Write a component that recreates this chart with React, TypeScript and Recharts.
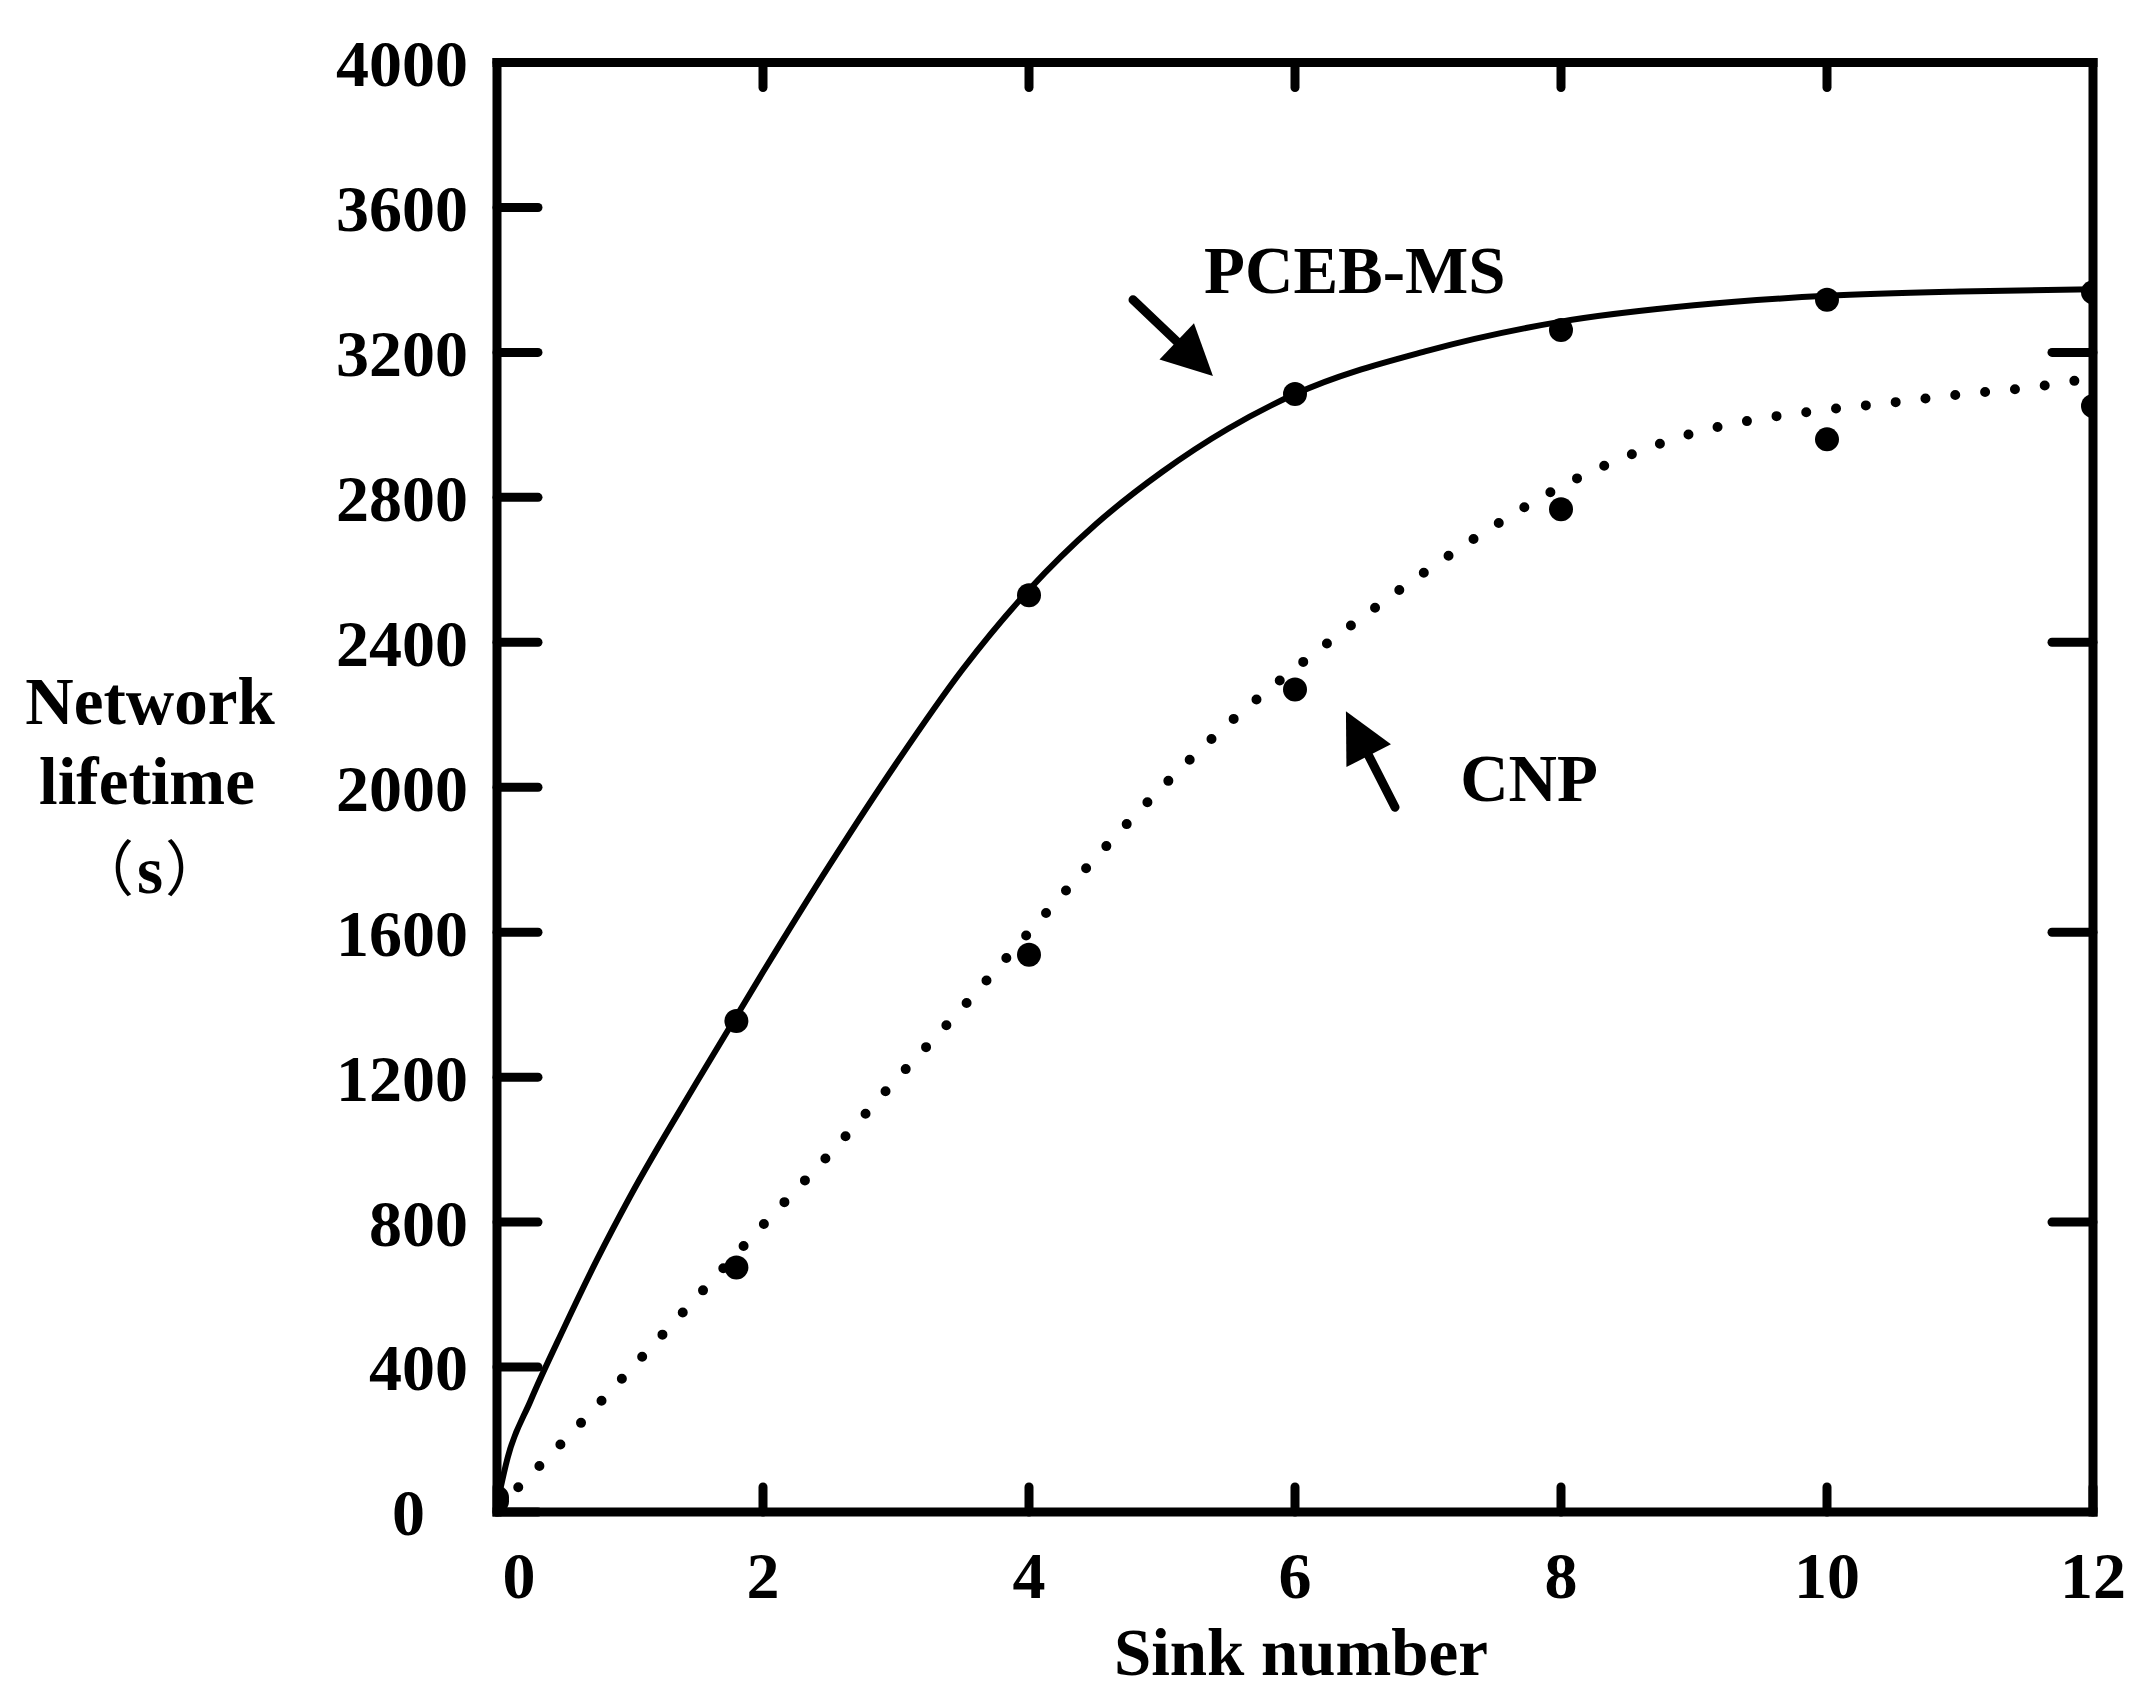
import React from 'react';
import {
  ComposedChart, Line, Scatter, XAxis, YAxis, ReferenceLine, ReferenceDot,
} from 'recharts';

// axis ticks
const sinkTicks = [0, 2, 4, 6, 8, 10, 12];
const lifetimeTicks = [0, 400, 800, 1200, 1600, 2000, 2400, 2800, 3200, 3600, 4000];
const topInnerTicks = [2, 4, 6, 8, 10];
const rightInnerTicks = [800, 1600, 2400, 3200];

// measured points (sink number, lifetime in s)
const sinkPoints = [0, 1.8, 4, 6, 8, 10, 12];
const pcebMeasured = [30, 1355, 2530, 3085, 3262, 3345, 3366];
const cnpMeasured = [40, 675, 1538, 2270, 2767, 2960, 3052];

// fitted curves
const pcebFitX = [0, 0.08, 0.25, 0.5, 0.75, 1, 1.5, 2, 2.5, 3, 3.5, 4, 4.5, 5, 5.5, 6, 7, 8, 9, 10, 11, 12];
const pcebFit = [20, 150, 305, 505, 695, 870, 1185, 1490, 1785, 2065, 2325, 2545, 2725, 2870, 2990, 3085, 3205, 3285, 3330, 3356, 3368, 3374];
const cnpFitX = [0, 0.5, 1, 1.5, 2, 2.5, 3, 3.5, 4, 4.5, 5, 5.5, 6, 6.5, 7, 7.5, 8, 8.5, 9, 9.5, 10, 10.5, 11, 11.5, 12];
const cnpFit = [10, 195, 392, 592, 792, 988, 1193, 1392, 1600, 1805, 2000, 2176, 2328, 2468, 2600, 2722, 2830, 2914, 2978, 3017, 3042, 3062, 3084, 3102, 3130];

// annotation anchors in data units: [tail, tip] of arrows, text baselines
const pcebArrow = [{ x: 4.782, y: 3345 }, { x: 5.383, y: 3135 }];
const cnpArrow = [{ x: 6.752, y: 1945 }, { x: 6.383, y: 2210 }];
const pcebLabelAt = { x: 6.45, y: 3364 };
const cnpLabelAt = { x: 7.76, y: 1962 };

const rows = (xs: number[], ys: number[]) => xs.map((x, i) => ({ x, y: ys[i] }));

const pcebPointRows = rows(sinkPoints, pcebMeasured);
const cnpPointRows = rows(sinkPoints, cnpMeasured);
const pcebFitRows = rows(pcebFitX, pcebFit);
const cnpFitRows = rows(cnpFitX, cnpFit);

const FONT = '"Liberation Serif", "Times New Roman", serif';
const CJK = '"Noto Sans CJK SC", "Liberation Serif", serif';
const axisLine = { stroke: '#000', strokeWidth: 9, strokeLinecap: 'square' as const };
const tickLine = { stroke: '#000', strokeWidth: 9, strokeLinecap: 'round' as const };

// frame axes only carry inner tick marks, no labels
const NoLabel = () => <g />;

const Arrow = (props: any) => {
  const { x1, y1, x2, y2 } = props;
  const dx = x2 - x1;
  const dy = y2 - y1;
  const len = Math.hypot(dx, dy) || 1;
  const ux = dx / len;
  const uy = dy / len;
  const head = 50;
  const half = 25;
  const bx = x2 - ux * head;
  const by = y2 - uy * head;
  return (
    <g>
      <line x1={x1} y1={y1} x2={bx + ux * 6} y2={by + uy * 6} stroke="#000" strokeWidth={9} strokeLinecap="round" />
      <polygon
        points={`${x2},${y2} ${bx - uy * half},${by + ux * half} ${bx + uy * half},${by - ux * half}`}
        fill="#000"
      />
    </g>
  );
};

const textShape = (text: string) => (p: any) => (
  <text x={p.cx} y={p.cy} textAnchor="middle" fontFamily={FONT} fontWeight={700} fontSize={67} fill="#000">
    {text}
  </text>
);

const XTick = (p: any) => {
  const v = p.payload?.value;
  return (
    <text
      x={p.x + (v === 0 ? 22 : 0)}
      y={p.y}
      dy="0.71em"
      textAnchor="middle"
      fontFamily={FONT}
      fontWeight={700}
      fontSize={66}
      fill="#000"
    >
      {v}
    </text>
  );
};

const YTick = (p: any) => {
  const v = p.payload?.value;
  return (
    <text
      x={p.x - (v === 0 ? 43 : 0)}
      y={p.y}
      dy="0.355em"
      textAnchor="end"
      fontFamily={FONT}
      fontWeight={700}
      fontSize={66}
      fill="#000"
    >
      {v}
    </text>
  );
};

// three-line axis title kept in one text element
const YTitle = (props: any) => {
  const vb = props.viewBox || { x: 0, y: 54.5, width: 489, height: 1449.5 };
  const x0 = vb.x;
  const mid = vb.y + vb.height / 2;
  return (
    <text fontFamily={FONT} fontWeight={700} fontSize={67} fill="#000">
      <tspan x={x0 + 142} y={mid - 63} textAnchor="middle">Network</tspan>
      <tspan x={x0 + 139} y={mid + 17} textAnchor="middle">lifetime</tspan>
      <tspan x={x0 + 126} y={mid + 104} textAnchor="end" fontFamily={CJK} fontWeight={400} fontSize={60}>（</tspan>
      <tspan x={x0 + 142} y={mid + 106} textAnchor="middle">s</tspan>
      <tspan x={x0 + 157} y={mid + 104} textAnchor="start" fontFamily={CJK} fontWeight={400} fontSize={60}>）</tspan>
    </text>
  );
};

const XTitle = (props: any) => {
  const vb = props.viewBox || { x: 489, y: 1504, width: 1596, height: 186 };
  return (
    <text
      x={vb.x + vb.width / 2 + 6}
      y={vb.y + 163}
      textAnchor="middle"
      fontFamily={FONT}
      fontWeight={700}
      fontSize={67}
      fill="#000"
    >
      Sink number
    </text>
  );
};

const marker = (p: any) => <circle cx={p.cx} cy={p.cy} r={12} fill="#000" />;

export default function App() {
  return (
    <div style={{ width: 2140, height: 1690, background: '#fff' }}>
      <ComposedChart width={2140} height={1690} margin={{ top: 53.5, right: 54, bottom: 0, left: 0 }}>
        <XAxis
          dataKey="x"
          type="number"
          domain={[0, 12]}
          ticks={sinkTicks}
          interval={0}
          allowDataOverflow
          height={186}
          tickSize={-25}
          tickMargin={64}
          axisLine={axisLine}
          tickLine={tickLine}
          tick={<XTick />}
          label={{ content: XTitle }}
        />
        <XAxis
          xAxisId="top"
          orientation="top"
          dataKey="x"
          type="number"
          domain={[0, 12]}
          ticks={topInnerTicks}
          interval={0}
          allowDataOverflow
          height={1}
          tickSize={-25}
          axisLine={axisLine}
          tickLine={tickLine}
          tick={<NoLabel />}
        />
        <YAxis
          type="number"
          domain={[0, 4000]}
          ticks={lifetimeTicks}
          interval={0}
          allowDataOverflow
          width={489}
          tickSize={-41}
          tickMargin={70}
          axisLine={axisLine}
          tickLine={tickLine}
          tick={<YTick />}
          label={{ content: YTitle }}
        />
        <YAxis
          yAxisId="right"
          orientation="right"
          type="number"
          domain={[0, 4000]}
          ticks={rightInnerTicks}
          interval={0}
          allowDataOverflow
          width={1}
          tickSize={-41}
          axisLine={axisLine}
          tickLine={tickLine}
          tick={<NoLabel />}
        />
        {/* invisible series so the top/right frame axes get their scales */}
        <Line
          xAxisId="top"
          yAxisId="right"
          data={pcebFitRows}
          dataKey="y"
          stroke="none"
          dot={false}
          activeDot={false}
          legendType="none"
          isAnimationActive={false}
        />
        <Line
          data={pcebFitRows}
          dataKey="y"
          name="PCEB-MS"
          type="monotone"
          stroke="#000"
          strokeWidth={6}
          dot={false}
          activeDot={false}
          isAnimationActive={false}
        />
        <Line
          data={cnpFitRows}
          dataKey="y"
          name="CNP"
          type="monotone"
          stroke="#000"
          strokeWidth={10}
          strokeDasharray="0 30"
          strokeLinecap="round"
          dot={false}
          activeDot={false}
          isAnimationActive={false}
        />
        <Scatter data={pcebPointRows} dataKey="y" shape={marker} isAnimationActive={false} />
        <Scatter data={cnpPointRows} dataKey="y" shape={marker} isAnimationActive={false} />
        <ReferenceLine segment={pcebArrow} shape={Arrow} ifOverflow="visible" />
        <ReferenceLine segment={cnpArrow} shape={Arrow} ifOverflow="visible" />
        <ReferenceDot x={pcebLabelAt.x} y={pcebLabelAt.y} r={0} shape={textShape('PCEB-MS')} ifOverflow="visible" />
        <ReferenceDot x={cnpLabelAt.x} y={cnpLabelAt.y} r={0} shape={textShape('CNP')} ifOverflow="visible" />
      </ComposedChart>
    </div>
  );
}
